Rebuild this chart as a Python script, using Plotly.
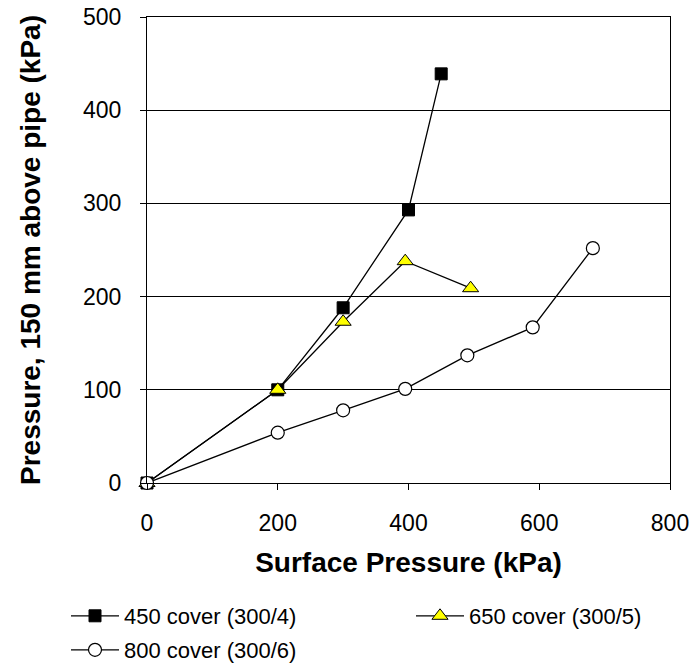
import plotly.graph_objects as go

# Data
x_450 = [0, 200, 300, 400, 450]
y_450 = [0, 100, 188, 293, 439]

x_650 = [0, 200, 300, 395, 495]
y_650 = [0, 100, 173, 238, 209]

x_800 = [0, 200, 300, 395, 490, 590, 682]
y_800 = [0, 54, 78, 101, 137, 167, 252]

names = ["450 cover (300/4)", "650 cover (300/5)", "800 cover (300/6)"]
x_ticks = [0, 200, 400, 600, 800]
y_ticks = [0, 100, 200, 300, 400, 500]

FONT = "Arial, 'Liberation Sans', sans-serif"

fig = go.Figure()
fig.add_trace(go.Scatter(
    x=x_450, y=y_450, name=names[0], mode="lines+markers",
    line=dict(color="black", width=1.3),
    marker=dict(symbol="square", size=12, color="black", line=dict(color="black", width=1)),
    cliponaxis=False, legend="legend"))
fig.add_trace(go.Scatter(
    x=x_650, y=y_650, name=names[1], mode="lines+markers",
    line=dict(color="black", width=1.3),
    marker=dict(symbol="triangle-up", size=14, color="#FFFF00", line=dict(color="black", width=1)),
    cliponaxis=False, legend="legend2"))
fig.add_trace(go.Scatter(
    x=x_800, y=y_800, name=names[2], mode="lines+markers",
    line=dict(color="black", width=1.3),
    marker=dict(symbol="circle", size=13, color="white", line=dict(color="black", width=1.2)),
    cliponaxis=False, legend="legend3"))

legend_common = dict(
    orientation="h", xref="container", yref="container",
    xanchor="left", yanchor="middle", itemwidth=48,
    font=dict(family=FONT, size=22, color="black"),
    bgcolor="rgba(0,0,0,0)", borderwidth=0,
)

fig.update_layout(
    width=693, height=665,
    margin=dict(l=147, r=23, t=17, b=182),
    paper_bgcolor="white", plot_bgcolor="white",
    font=dict(family=FONT, size=22, color="black"),
    showlegend=True,
    legend=dict(x=66 / 693, y=1 - 616 / 665, **legend_common),
    legend2=dict(x=411 / 693, y=1 - 616 / 665, **legend_common),
    legend3=dict(x=66 / 693, y=1 - 650 / 665, **legend_common),
    xaxis=dict(
        range=[0, 800], tickvals=x_ticks, ticktext=[str(v) for v in x_ticks],
        showgrid=False, zeroline=False,
        showline=True, linecolor="black", linewidth=1, mirror=True,
        ticks="outside", ticklen=6, tickcolor="black", tickwidth=1,
        tickfont=dict(family=FONT, size=23, color="black"),
        ticklabelstandoff=13,
        title=dict(text="<b>Surface Pressure (kPa)</b>", standoff=17,
                   font=dict(family=FONT, size=28, color="black")),
        automargin=False,
    ),
    yaxis=dict(
        range=[0, 500], tickvals=y_ticks, ticktext=[str(v) for v in y_ticks],
        showgrid=True, gridcolor="black", gridwidth=1, zeroline=False,
        showline=True, linecolor="black", linewidth=1, mirror=True,
        ticks="outside", ticklen=6, tickcolor="black", tickwidth=1,
        tickfont=dict(family=FONT, size=23, color="black"),
        ticklabelstandoff=14,
        title=dict(text="<b>Pressure, 150 mm above pipe (kPa)</b>", standoff=34,
                   font=dict(family=FONT, size=28, color="black")),
        automargin=False,
    ),
)

fig.write_html("out.html")
